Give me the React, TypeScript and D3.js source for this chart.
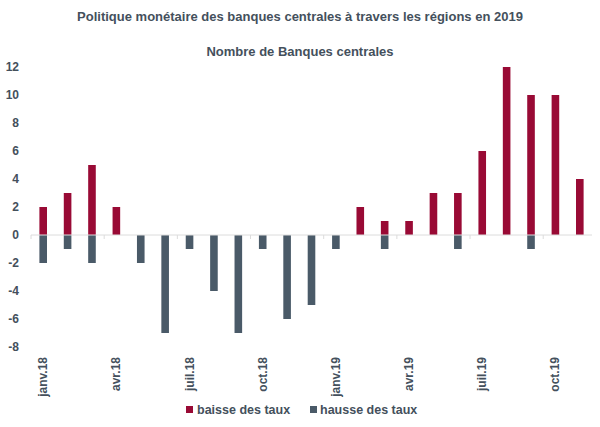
import React from "react";
import * as d3 from "d3";

const months = [
  "janv.18","févr.18","mars.18","avr.18","mai.18","juin.18","juil.18","août.18","sept.18","oct.18","nov.18","déc.18",
  "janv.19","févr.19","mars.19","avr.19","mai.19","juin.19","juil.19","août.19","sept.19","oct.19","nov.19",
];
const baisse = [2,3,5,2,0,0,0,0,0,0,0,0,0,2,1,1,3,3,6,12,10,10,4];
const hausse = [-2,-1,-2,0,-2,-7,-1,-4,-7,-1,-6,-5,-1,0,-1,0,0,-1,0,0,-1,0,0];
const yTicks = [12,10,8,6,4,2,0,-2,-4,-6,-8];
const labelEvery = 3;

const RED = "#990a35";
const BLUE = "#4a5a68";
const TEXT = "#44505c";
const FONT = "'Liberation Sans', Arial, sans-serif";

export default function App() {
  const W = 600, H = 427;
  const x = d3.scaleBand<string>().domain(months).range([31, 592]).padding(0);
  const y = d3.scaleLinear().domain([-8, 12]).range([347, 67]);
  const bw = 7.6;
  const y0 = y(0);
  return (
    <svg width={W} height={H} style={{ position: "absolute", left: 0, top: 0 }} fontFamily={FONT}>
      <text x={300} y={21} textAnchor="middle" fontSize={13} fill={TEXT} fontWeight="bold">
        Politique monétaire des banques centrales à travers les régions en 2019
      </text>
      <text x={300} y={56} textAnchor="middle" fontSize={13} fill={TEXT} fontWeight="bold">
        Nombre de Banques centrales
      </text>
      {yTicks.map((t) => (
        <text key={t} x={19} y={y(t)} dy="0.35em" textAnchor="end" fontSize={12} fill={TEXT} fontWeight="bold">
          {t}
        </text>
      ))}
      {months.map((m, i) => {
        const cx = (x(m) ?? 0) + x.bandwidth() / 2;
        return (
          <g key={m}>
            {baisse[i] !== 0 && (
              <rect x={cx - bw / 2} y={y(baisse[i])} width={bw} height={y0 - y(baisse[i])} fill={RED} />
            )}
            {hausse[i] !== 0 && (
              <rect x={cx - bw / 2} y={y0} width={bw} height={y(hausse[i]) - y0} fill={BLUE} />
            )}
          </g>
        );
      })}
      <line x1={31} x2={592} y1={y0} y2={y0} stroke="#dcdcdc" strokeWidth={1} />
      {months.map((m, i) =>
        i % labelEvery === 0 ? (
          <line key={"t" + m} x1={x(m)} x2={x(m)} y1={y0} y2={y0 + 4} stroke="#dcdcdc" strokeWidth={1} />
        ) : null
      )}
      {months.map((m, i) => {
        if (i % labelEvery !== 0) return null;
        const cx = (x(m) ?? 0) + x.bandwidth() / 2;
        return (
          <text
            key={"l" + m}
            transform={`translate(${cx + 4},357) rotate(-90)`}
            textAnchor="end"
            fontSize={12}
            fill={TEXT}
            fontWeight="bold"
          >
            {m}
          </text>
        );
      })}
      <rect x={186} y={406} width={7} height={7} fill={RED} />
      <text x={197} y={414} fontSize={12.5} fill={TEXT} fontWeight="bold">baisse des taux</text>
      <rect x={310} y={406} width={7} height={7} fill={BLUE} />
      <text x={320} y={414} fontSize={12.5} fill={TEXT} fontWeight="bold">hausse des taux</text>
    </svg>
  );
}
